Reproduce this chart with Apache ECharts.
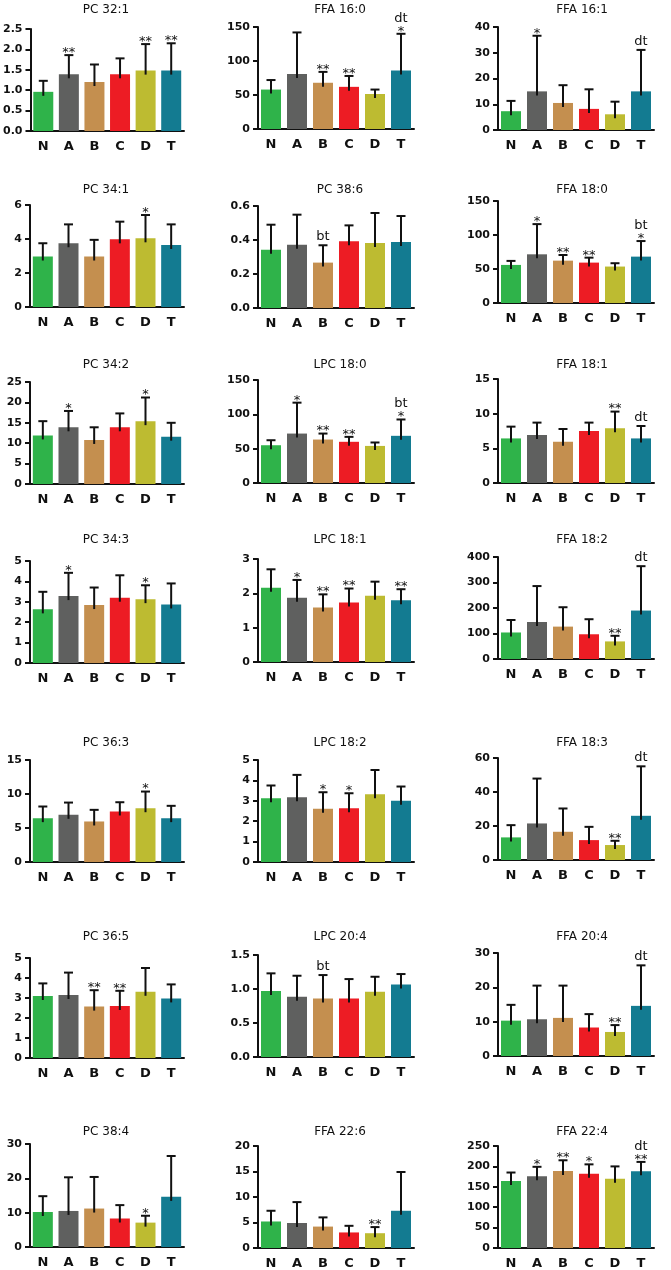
<!DOCTYPE html>
<html>
<head>
<meta charset="utf-8">
<script src="https://cdn.jsdelivr.net/npm/echarts@6/dist/echarts.min.js"></script>
<style>
  html, body { margin: 0; padding: 0; background: #fff; }
  #main { width: 671px; height: 1270px; }
</style>
</head>
<body>
<div id="main"></div>
<script>
// groups on every x axis
var groups = ['N', 'A', 'B', 'C', 'D', 'T'];
var colors = ['#2fb34a', '#5f605f', '#c48f4f', '#ed1c24', '#bdbb31', '#137b91'];

// panel titles, row by row
var titles = [
  'PC 32:1', 'FFA 16:0', 'FFA 16:1',
  'PC 34:1', 'PC 38:6', 'FFA 18:0',
  'PC 34:2', 'LPC 18:0', 'FFA 18:1',
  'PC 34:3', 'LPC 18:1', 'FFA 18:2',
  'PC 36:3', 'LPC 18:2', 'FFA 18:3',
  'PC 36:5', 'LPC 20:4', 'FFA 20:4',
  'PC 38:4', 'FFA 22:6', 'FFA 22:4'
];

// mean values (bar heights)
var means = [
  [0.96, 1.39, 1.20, 1.39, 1.48, 1.48],
  [58, 81, 68, 62, 51.5, 86],
  [7.3, 15.0, 10.5, 8.2, 6.1, 15.0],
  [2.97, 3.75, 2.97, 3.98, 4.04, 3.65],
  [0.343, 0.372, 0.267, 0.392, 0.382, 0.388],
  [56, 71.6, 62.3, 59.4, 53.6, 68.2],
  [11.9, 13.9, 10.8, 13.9, 15.4, 11.6],
  [55, 72, 63.3, 60, 54, 68.7],
  [6.43, 6.92, 5.95, 7.5, 7.89, 6.43],
  [2.63, 3.28, 2.84, 3.2, 3.13, 2.87],
  [2.16, 1.87, 1.59, 1.73, 1.93, 1.80],
  [104, 145, 127, 97, 69, 190],
  [6.45, 6.94, 5.96, 7.43, 7.91, 6.45],
  [3.13, 3.18, 2.61, 2.64, 3.32, 3.0],
  [13.3, 21.5, 16.6, 11.7, 8.8, 26],
  [3.1, 3.15, 2.57, 2.6, 3.31, 2.98],
  [0.969, 0.885, 0.861, 0.861, 0.959, 1.067],
  [10.3, 10.7, 11.1, 8.3, 7.0, 14.6],
  [10.2, 10.5, 11.2, 8.3, 7.1, 14.6],
  [5.2, 4.9, 4.2, 3.05, 2.9, 7.3],
  [164, 176, 189, 182, 170, 188]
];

// upper error bar length (SD)
var sds = [
  [0.27, 0.47, 0.43, 0.39, 0.65, 0.67],
  [14, 61, 16, 16, 6.5, 54],
  [4.0, 21.6, 6.9, 7.6, 4.9, 16.1],
  [0.78, 1.11, 0.98, 1.04, 1.37, 1.21],
  [0.147, 0.177, 0.102, 0.094, 0.177, 0.153],
  [5.9, 44.4, 8.3, 7.3, 4.9, 22.9],
  [3.5, 4.0, 3.1, 3.4, 5.8, 3.4],
  [7.3, 45, 8.7, 7.2, 5, 23.8],
  [1.7, 1.79, 1.84, 1.21, 2.41, 1.79],
  [0.86, 1.14, 0.86, 1.1, 0.68, 1.03],
  [0.54, 0.52, 0.38, 0.41, 0.41, 0.32],
  [49, 141, 76, 59, 22, 174],
  [1.71, 1.8, 1.71, 1.36, 2.45, 1.81],
  [0.62, 1.09, 0.81, 0.73, 1.19, 0.7],
  [7.2, 26.4, 13.7, 7.8, 2.5, 29.1],
  [0.63, 1.12, 0.82, 0.76, 1.19, 0.7],
  [0.261, 0.31, 0.344, 0.285, 0.221, 0.153],
  [4.6, 9.8, 9.4, 3.9, 2.0, 11.8],
  [4.6, 9.8, 9.2, 3.9, 2.0, 11.9],
  [2.1, 4.1, 1.8, 1.3, 1.2, 7.6],
  [21, 23, 26, 23, 30, 23]
];

// significance stars above the error bars
var stars = [
  ['', '**', '', '', '**', '**'],
  ['', '', '**', '**', '', '*'],
  ['', '*', '', '', '', ''],
  ['', '', '', '', '*', ''],
  ['', '', '', '', '', ''],
  ['', '*', '**', '**', '', '*'],
  ['', '*', '', '', '*', ''],
  ['', '*', '**', '**', '', '*'],
  ['', '', '', '', '**', ''],
  ['', '*', '', '', '*', ''],
  ['', '*', '**', '**', '', '**'],
  ['', '', '', '', '**', ''],
  ['', '', '', '', '*', ''],
  ['', '', '*', '*', '', ''],
  ['', '', '', '', '**', ''],
  ['', '', '**', '**', '', ''],
  ['', '', '', '', '', ''],
  ['', '', '', '', '**', ''],
  ['', '', '', '', '*', ''],
  ['', '', '', '', '**', ''],
  ['', '*', '**', '*', '', '**']
];

// letter marks (bt / dt)
var marks = [
  ['', '', '', '', '', ''],
  ['', '', '', '', '', 'dt'],
  ['', '', '', '', '', 'dt'],
  ['', '', '', '', '', ''],
  ['', '', 'bt', '', '', ''],
  ['', '', '', '', '', 'bt'],
  ['', '', '', '', '', ''],
  ['', '', '', '', '', 'bt'],
  ['', '', '', '', '', 'dt'],
  ['', '', '', '', '', ''],
  ['', '', '', '', '', ''],
  ['', '', '', '', '', 'dt'],
  ['', '', '', '', '', ''],
  ['', '', '', '', '', ''],
  ['', '', '', '', '', 'dt'],
  ['', '', '', '', '', ''],
  ['', '', 'bt', '', '', ''],
  ['', '', '', '', '', 'dt'],
  ['', '', '', '', '', ''],
  ['', '', '', '', '', ''],
  ['', '', '', '', '', 'dt']
];

// y axis: max, tick step, decimals
var yMax = [2.5, 150, 40, 6, 0.6, 150, 25, 150, 15, 5, 3, 400, 15, 5, 60, 5, 1.5, 30, 30, 20, 250];
var yStep = [0.5, 50, 10, 2, 0.2, 50, 5, 50, 5, 1, 1, 100, 5, 1, 20, 1, 0.5, 10, 10, 5, 50];
var yDec = [1, 0, 0, 0, 1, 0, 0, 0, 0, 0, 0, 0, 0, 0, 0, 0, 1, 0, 0, 0, 0];

// layout: column x, and per-panel [top, baseline] in px
var colLeft = [30, 258, 498];
var colWidth = [154, 156, 156];
var titleX = [106, 340, 582];
var rowBox = [
  [[29, 131], [27, 129], [27, 130]],
  [[205, 307], [206, 308], [201, 303]],
  [[382, 484], [380, 483], [379, 483]],
  [[561, 663], [559, 662], [557, 659]],
  [[760, 862], [760, 862], [758, 860]],
  [[958, 1058], [955, 1057], [953, 1056]],
  [[1144, 1247], [1146, 1248], [1146, 1248]]
];
var titleY = [10, 190, 365, 540, 743, 937, 1132];

var FONT = '"DejaVu Sans", "Liberation Sans", sans-serif';

var grids = [], xAxes = [], yAxes = [], series = [], graphics = [];

function errRender(p) {
  return function (params, api) {
    var i = api.value(0);
    var top = api.coord([i, api.value(1)]);
    var hi = api.coord([i, api.value(1) + api.value(2)]);
    var x = top[0], yb = top[1] + 4, yt = hi[1];
    var kids = [
      { type: 'line', shape: { x1: x, y1: yb, x2: x, y2: yt }, style: { stroke: '#111', lineWidth: 2 } },
      { type: 'line', shape: { x1: x - 4.5, y1: yt, x2: x + 4.5, y2: yt }, style: { stroke: '#111', lineWidth: 2 } }
    ];
    var s = stars[p][i], m = marks[p][i];
    if (s) {
      kids.push({ type: 'text', style: { text: s, x: x, y: yt + 4, align: 'center', verticalAlign: 'bottom',
        font: '13px ' + FONT, fill: '#111' } });
    }
    if (m) {
      kids.push({ type: 'text', style: { text: m, x: x, y: s ? yt - 9 : yt - 2, align: 'center', verticalAlign: 'bottom',
        font: '13px ' + FONT, fill: '#111' } });
    }
    return { type: 'group', children: kids };
  };
}

for (var p = 0; p < titles.length; p++) {
  var r = Math.floor(p / 3), c = p % 3;
  var box = rowBox[r][c];
  grids.push({ left: colLeft[c], width: colWidth[c], top: box[0], height: box[1] - box[0] });
  xAxes.push({
    gridIndex: p, type: 'category', data: groups, boundaryGap: true,
    axisLine: { lineStyle: { color: '#111', width: 2 } },
    axisTick: { alignWithLabel: true, length: 5, lineStyle: { color: '#111', width: 2 } },
    axisLabel: { margin: 9, color: '#111', fontFamily: FONT, fontWeight: 'bold', fontSize: 13 }
  });
  (function (dec) {
    yAxes.push({
      gridIndex: p, type: 'value', min: 0, max: yMax[p], interval: yStep[p],
      axisLine: { show: true, lineStyle: { color: '#111', width: 2 } },
      axisTick: { show: true, length: 5, lineStyle: { color: '#111', width: 2 } },
      splitLine: { show: false },
      axisLabel: { margin: 8, color: '#111', fontFamily: FONT, fontWeight: 'bold', fontSize: 11,
        formatter: function (v) { return v.toFixed(dec); } }
    });
  })(yDec[p]);
  series.push({
    type: 'bar', xAxisIndex: p, yAxisIndex: p, barWidth: 20,
    data: means[p].map(function (v, i) { return { value: v, itemStyle: { color: colors[i] } }; }),
    silent: true, animation: false
  });
  series.push({
    type: 'custom', xAxisIndex: p, yAxisIndex: p, renderItem: errRender(p),
    data: means[p].map(function (v, i) { return [i, v, sds[p][i]]; }),
    silent: true, animation: false, z: 3
  });
  graphics.push({
    type: 'text', x: titleX[c], y: titleY[r],
    style: { text: titles[p], align: 'center', verticalAlign: 'middle', font: '12px ' + FONT, fill: '#111' }
  });
}

var chart = echarts.init(document.getElementById('main'));
chart.setOption({
  animation: false,
  grid: grids,
  xAxis: xAxes,
  yAxis: yAxes,
  series: series,
  graphic: graphics
});
</script>
</body>
</html>
